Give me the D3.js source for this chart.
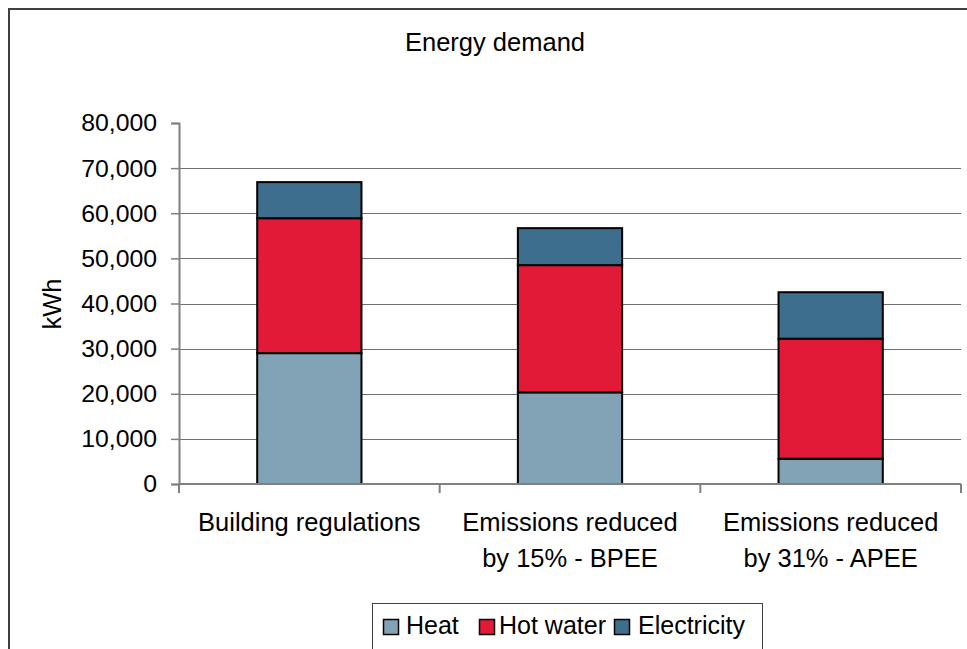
<!DOCTYPE html>
<html>
<head>
<meta charset="utf-8">
<script src="https://cdn.jsdelivr.net/npm/d3@7"></script>
<style>
  html, body { margin: 0; padding: 0; background: #fff; }
  svg { display: block; }
  text { font-family: "Liberation Sans", Arial, sans-serif; fill: #000; }
</style>
</head>
<body>
<svg id="chart" width="967" height="649"></svg>
<script>
const categories = [
  ["Building regulations"],
  ["Emissions reduced", "by 15% - BPEE"],
  ["Emissions reduced", "by 31% - APEE"]
];
const seriesNames = ["Heat", "Hot water", "Electricity"];
const heat = [29000, 20300, 5600];
const hotWater = [29900, 28200, 26600];
const electricity = [8000, 8200, 10300];
const yTicks = [0, 10000, 20000, 30000, 40000, 50000, 60000, 70000, 80000];
const titleText = "Energy demand";
const yLabel = "kWh";

const colors = ["#82A2B6", "#E31A37", "#3D6E8E"];
const fontSize = 25.5;
const tickFontSize = 24.8;
const legendFontSize = 25;

const svg = d3.select("#chart");

// outer frame
svg.append("rect")
  .attr("x", 9).attr("y", 9)
  .attr("width", 1000).attr("height", 700)
  .attr("fill", "#fff")
  .attr("stroke", "#404040")
  .attr("stroke-width", 2);

const catKeys = categories.map(c => c.join(" "));
const x = d3.scaleBand()
  .domain(catKeys)
  .range([179, 961])
  .paddingInner(0.6)
  .paddingOuter(0.3);

const y = d3.scaleLinear().domain([0, 80000]).range([484, 123]);

// gridlines
svg.append("g")
  .selectAll("line")
  .data(yTicks.filter(t => t > 0 && t < 80000))
  .join("line")
  .attr("x1", 179).attr("x2", 961)
  .attr("y1", d => Math.round(y(d)) + 0.5)
  .attr("y2", d => Math.round(y(d)) + 0.5)
  .attr("stroke", "#707070")
  .attr("stroke-width", 1.2);

// stacked data
const rows = catKeys.map((k, i) => ({ key: k, Heat: heat[i], "Hot water": hotWater[i], Electricity: electricity[i] }));
const stacked = d3.stack().keys(seriesNames)(rows);

svg.append("g")
  .selectAll("g")
  .data(stacked)
  .join("g")
  .attr("fill", (d, i) => colors[i])
  .selectAll("rect")
  .data(d => d)
  .join("rect")
  .attr("x", d => x(d.data.key))
  .attr("width", x.bandwidth())
  .attr("y", d => y(d[1]))
  .attr("height", d => y(d[0]) - y(d[1]))
  .attr("stroke", "#000")
  .attr("stroke-width", 2);

// y axis
const yAxis = d3.axisLeft(y)
  .tickValues(yTicks)
  .tickFormat(d3.format(","))
  .tickSize(8)
  .tickPadding(14);
const gy = svg.append("g").attr("transform", "translate(179,0)").call(yAxis);
gy.select(".domain").attr("stroke", "#808080").attr("stroke-width", 2);
gy.selectAll(".tick line").attr("stroke", "#808080").attr("stroke-width", 1.5);
gy.selectAll(".tick text")
  .attr("font-size", tickFontSize)
  .attr("font-family", "Liberation Sans, Arial, sans-serif")
  .attr("fill", "#000");

// x axis line and category ticks
svg.append("line")
  .attr("x1", 179).attr("x2", 961)
  .attr("y1", y(0)).attr("y2", y(0))
  .attr("stroke", "#808080").attr("stroke-width", 2);
const step = x.step();
const boundaries = catKeys.map((k, i) => 179 + i * step);
boundaries.push(961);
svg.append("g").selectAll("line")
  .data(boundaries)
  .join("line")
  .attr("x1", d => d).attr("x2", d => d)
  .attr("y1", y(0)).attr("y2", y(0) + 9)
  .attr("stroke", "#808080").attr("stroke-width", 2);

// category labels
const catG = svg.append("g");
categories.forEach((lines, i) => {
  const cx = x(catKeys[i]) + x.bandwidth() / 2;
  const t = catG.append("text")
    .attr("text-anchor", "middle")
    .attr("font-size", fontSize);
  lines.forEach((ln, j) => {
    t.append("tspan").attr("x", cx).attr("y", 531 + j * 36).text(ln);
  });
});

// title
svg.append("text")
  .attr("x", 495).attr("y", 51)
  .attr("text-anchor", "middle")
  .attr("font-size", fontSize)
  .text(titleText);

// y label
svg.append("text")
  .attr("transform", "translate(61,304) rotate(-90)")
  .attr("text-anchor", "middle")
  .attr("font-size", fontSize)
  .text(yLabel);

// legend
svg.append("rect")
  .attr("x", 372.5).attr("y", 603.5)
  .attr("width", 390).attr("height", 60)
  .attr("fill", "#fff")
  .attr("stroke", "#404040")
  .attr("stroke-width", 1);
const legendSwatchX = [383, 479, 614];
const legendTextX = [406, 499, 638];
seriesNames.forEach((name, i) => {
  svg.append("rect")
    .attr("x", legendSwatchX[i] + 0.5).attr("y", 619.5)
    .attr("width", 15).attr("height", 15)
    .attr("fill", colors[i])
    .attr("stroke", "#000").attr("stroke-width", 1.5);
  svg.append("text")
    .attr("x", legendTextX[i]).attr("y", 634)
    .attr("font-size", legendFontSize)
    .text(name);
});
</script>
</body>
</html>
